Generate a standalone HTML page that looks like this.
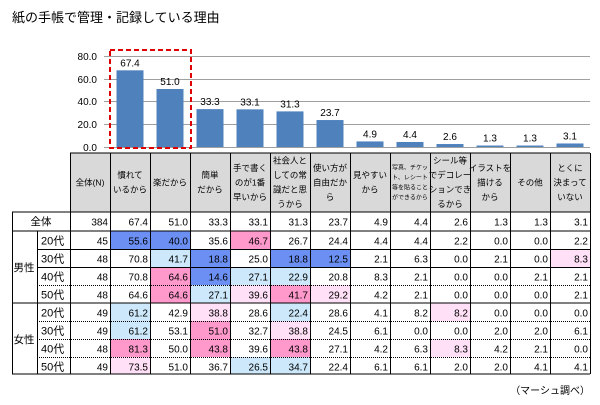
<!DOCTYPE html>
<html><head><meta charset="utf-8"><style>
body{margin:0;background:#fff;}
svg text{font-family:"Liberation Sans","Noto Sans CJK JP",sans-serif;fill:#000;}
</style></head><body>
<svg width="600" height="400" viewBox="0 0 600 400" xmlns="http://www.w3.org/2000/svg">
<text x="12" y="22" font-size="13">紙の手帳で管理・記録している理由</text>
<g stroke="#a0a0a0" stroke-width="1">
<line x1="104" y1="56.5" x2="590" y2="56.5"/>
<line x1="104" y1="79.5" x2="590" y2="79.5"/>
<line x1="104" y1="101.5" x2="590" y2="101.5"/>
<line x1="104" y1="124.5" x2="590" y2="124.5"/>
<line x1="104" y1="147.5" x2="590" y2="147.5"/>
</g>
<g font-size="10" text-anchor="end">
<text x="97" y="60">80.0</text><text x="97" y="83">60.0</text><text x="97" y="105">40.0</text><text x="97" y="128">20.0</text><text x="97" y="151">0.0</text>
</g>
<g fill="#4f81bd" id="bars"></g>
<g font-size="10" text-anchor="middle" id="blabels"></g>
<rect x="110" y="50" width="81" height="98" fill="none" stroke="#e00000" stroke-width="2" stroke-dasharray="5,3"/>
<g id="cells"></g>
<g id="lines"></g>
<g id="txt"></g>
<text x="590" y="394" font-size="10" text-anchor="end" fill="#444">（マーシュ調べ）</text>
</svg>
<script>
const ns="http://www.w3.org/2000/svg";
function el(p,t,a,txt){const e=document.createElementNS(ns,t);for(const k in a)e.setAttribute(k,a[k]);if(txt!=null)e.textContent=txt;document.getElementById(p).appendChild(e);return e;}
const tot=[67.4,51.0,33.3,33.1,31.3,23.7,4.9,4.4,2.6,1.3,1.3,3.1];
tot.forEach((v,i)=>{const cx=130+40*i,h=v*91/80;el('bars','rect',{x:cx-13.5,y:147-h,width:27,height:h});el('blabels','text',{x:cx,y:147-h-4},v.toFixed(1));});
el('cells','rect',{x:70,y:153,width:520,height:59,fill:'#d9d9d9'});
const hdr=[["全体(N)"],["慣れて","いるから"],["楽だから"],["簡単","だから"],["手で書く","のが1番","早いから"],["社会人と","しての常","識だと思","うから"],["使い方が","自由だか","ら"],["見やすい","から"],["写真、チケッ","ト、レシート","等を貼ること","ができるから"],["シール等","でデコレー","ションでき","るから"],["イラストを","描ける","から"],["その他"],["とくに","決まって","いない"]];
hdr.forEach((ls,i)=>{const cx=i==0?90:130+40*(i-1);const small=i==8;const fs=small?6:8.5,lh=small?10:14.5;const y0=182.5-(ls.length-1)*lh/2+fs/3;ls.forEach((l,j)=>el('txt','text',{x:cx,y:y0+j*lh,'font-size':fs,'text-anchor':'middle'},l));});
const rows=[
[384,67.4,51.0,33.3,33.1,31.3,23.7,4.9,4.4,2.6,1.3,1.3,3.1],
[45,55.6,40.0,35.6,46.7,26.7,24.4,4.4,4.4,2.2,0.0,0.0,2.2],
[48,70.8,41.7,18.8,25.0,18.8,12.5,2.1,6.3,0.0,2.1,0.0,8.3],
[48,70.8,64.6,14.6,27.1,22.9,20.8,8.3,2.1,0.0,0.0,2.1,2.1],
[48,64.6,64.6,27.1,39.6,41.7,29.2,4.2,2.1,0.0,0.0,0.0,2.1],
[49,61.2,42.9,38.8,28.6,22.4,28.6,4.1,8.2,8.2,0.0,0.0,0.0],
[49,61.2,53.1,51.0,32.7,38.8,24.5,6.1,0.0,0.0,2.0,2.0,6.1],
[48,81.3,50.0,43.8,39.6,43.8,27.1,4.2,6.3,8.3,4.2,2.1,0.0],
[49,73.5,51.0,36.7,26.5,34.7,22.4,6.1,6.1,2.0,2.0,4.1,4.1]];
const B='#6b8ff2',LB='#cce8fa',P='#ff99cc',LP='#ffe0f6';
const col={"1,1":B,"1,2":B,"1,4":P,"2,2":LB,"2,3":B,"2,5":B,"2,6":B,"2,12":LP,"3,2":P,"3,3":B,"3,4":LB,"3,5":LB,"4,2":P,"4,3":LB,"4,4":LP,"4,5":P,"4,6":LP,"5,1":LB,"5,3":LP,"5,5":LB,"5,9":LP,"6,1":LB,"6,3":P,"6,5":LP,"7,1":P,"7,3":P,"7,5":P,"7,9":LP,"8,1":LP,"8,4":LB,"8,5":LB};
const ys=[212,231,249,267,285,303,321,339,357,374];
rows.forEach((r,ri)=>{r.forEach((v,ci)=>{const x0=ci==0?70:110+40*(ci-1);const c=col[ri+","+ci];if(c)el('cells','rect',{x:x0,y:ys[ri],width:40,height:ys[ri+1]-ys[ri],fill:c});el('txt','text',{x:x0+38,y:ys[ri]+13.5,'font-size':10,'text-anchor':'end',fill:'#222'},ci==0?String(v):v.toFixed(1));});});
el('txt','text',{x:41,y:225,'font-size':10.5,'text-anchor':'middle'},'全体');
el('txt','text',{x:24,y:271,'font-size':10.5,'text-anchor':'middle'},'男性');
el('txt','text',{x:24,y:343,'font-size':10.5,'text-anchor':'middle'},'女性');
['20代','30代','40代','50代','20代','30代','40代','50代'].forEach((a,i)=>el('txt','text',{x:41,y:ys[i+1]+13.5,'font-size':11},a));
function L(x1,y1,x2,y2,d){el('lines','line',{x1,y1,x2,y2,stroke:'#000','stroke-width':1,'stroke-dasharray':d?'1,1':'none'});}
L(70,153,590,153);L(12,212,590,212);L(12,231,590,231);L(12,303,590,303);L(12,374,590,374);
[[249,0],[267,0],[285,1],[321,1],[339,1],[357,1]].forEach(([y,d])=>{L(37,y+.5,590,y+.5,d);});
L(12.5,212,12.5,374);L(37.5,231,37.5,374);L(70.5,153,70.5,374);
for(let i=0;i<=12;i++){const x=110.5+40*i;L(x,153,x,374);}
</script>
</body></html>
